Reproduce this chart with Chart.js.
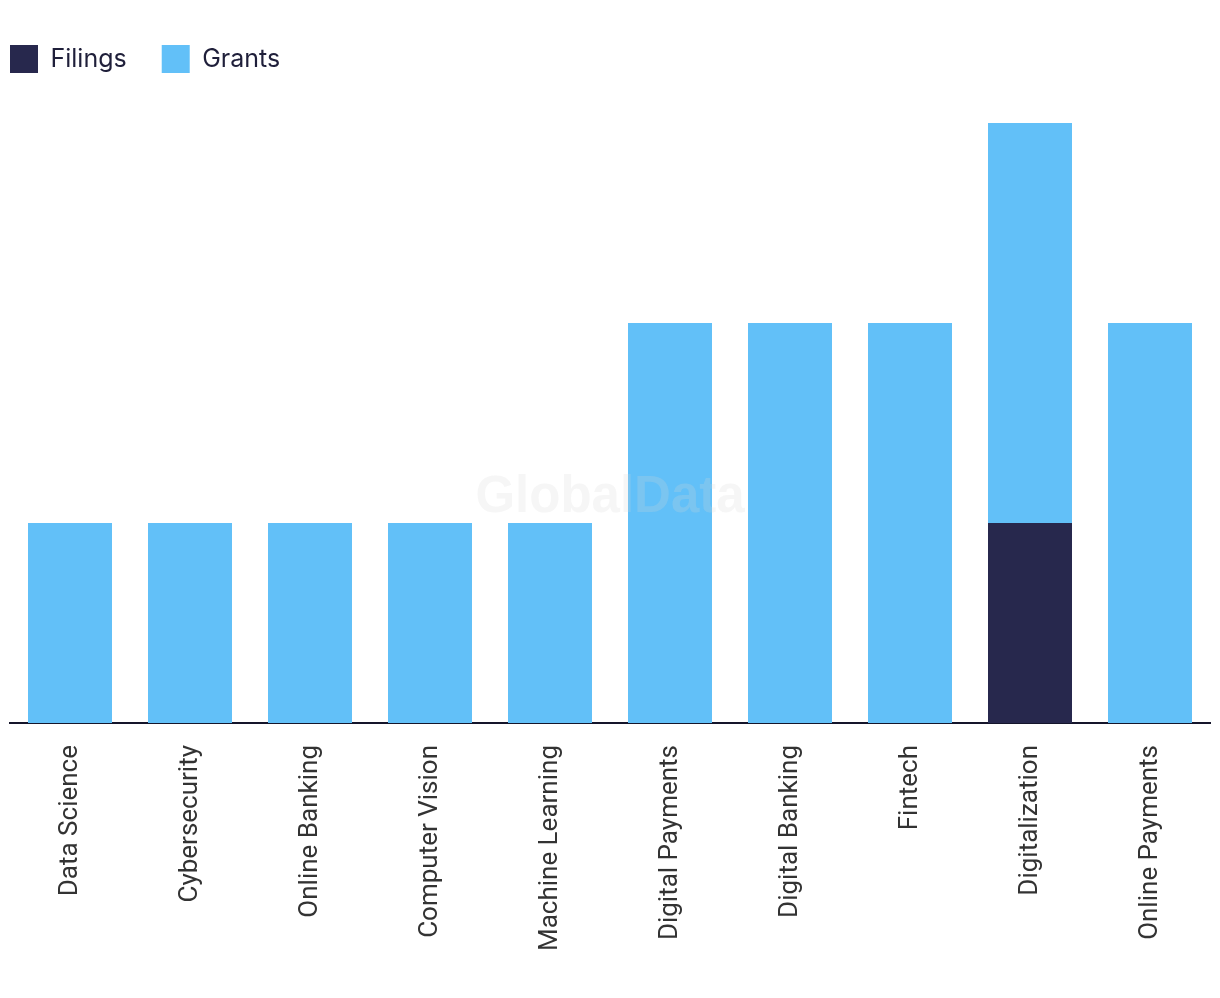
<!DOCTYPE html>
<html>
<head>
<meta charset="utf-8">
<script src="https://cdn.jsdelivr.net/npm/chart.js@4"></script>
<style>
  html, body { margin: 0; padding: 0; background: #fff; }
  #wrap { width: 1220px; height: 998px; }
</style>
</head>
<body>
<div id="wrap"><canvas id="chart" width="1220" height="998"></canvas></div>
<script>
// categories + series
var categories = ["Data Science", "Cybersecurity", "Online Banking", "Computer Vision", "Machine Learning",
    "Digital Payments", "Digital Banking", "Fintech", "Digitalization", "Online Payments"];
var filings = [0, 0, 0, 0, 0, 0, 0, 0, 1, 0];
var grants = [1, 1, 1, 1, 1, 2, 2, 2, 2, 2];

var legendGap = 35;

// faint watermark in the middle of the plot
var watermark = {
    id: 'watermark',
    afterLayout: function (chart) {
        // pull the legend flush with the axis line on the left
        chart.legend.left = chart.chartArea.left - legendGap;
    },
    afterDatasetsDraw: function (chart) {
        var ctx = chart.ctx;
        var area = chart.chartArea;
        ctx.save();
        ctx.font = 'bold 51px "Liberation Sans", Arial, sans-serif';
        ctx.fillStyle = 'rgba(215, 215, 215, 0.22)';
        ctx.textAlign = 'center';
        ctx.textBaseline = 'middle';
        ctx.fillText('GlobalData', (area.left + area.right) / 2, 498);
        ctx.restore();
    }
};

var ctx = document.getElementById('chart').getContext('2d');
window.myChart = new Chart(ctx, {
    type: 'bar',
    data: {
        labels: categories,
        datasets: [{
            label: 'Filings',
            data: filings,
            backgroundColor: '#27284d',
            categoryPercentage: 0.7,
            barPercentage: 1
        }, {
            label: 'Grants',
            data: grants,
            backgroundColor: '#62c0f8',
            categoryPercentage: 0.7,
            barPercentage: 1
        }]
    },
    options: {
        responsive: false,
        animation: false,
        layout: { padding: { left: 10, right: 10, top: 10, bottom: 0 } },
        plugins: {
            tooltip: { enabled: false },
            legend: {
                position: 'top',
                align: 'start',
                labels: {
                    boxWidth: 28,
                    boxHeight: 28,
                    padding: legendGap,
                    color: '#1f1f3a',
                    font: { family: 'Inter, Roboto, sans-serif', size: 25 }
                }
            }
        },
        scales: {
            x: {
                stacked: true,
                grid: { display: false, drawTicks: false },
                border: { display: true, color: '#15152b', width: 2 },
                ticks: {
                    maxRotation: 90,
                    minRotation: 90,
                    padding: 22,
                    color: '#333333',
                    font: { family: 'Roboto, sans-serif', size: 26 }
                },
                afterFit: function (scale) { scale.height = 275; }
            },
            y: {
                stacked: true,
                display: false,
                min: 0,
                max: 3.2
            }
        }
    },
    plugins: [watermark]
});
</script>
</body>
</html>
